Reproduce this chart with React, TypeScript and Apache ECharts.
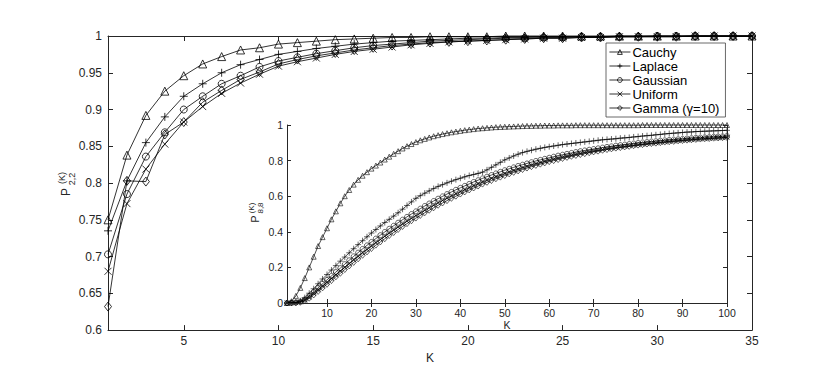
import React, { useEffect, useRef } from "react";
import * as echarts from "echarts";

const FONT = "'Liberation Sans', Arial, Helvetica, sans-serif";

const names = ["Cauchy", "Laplace", "Gaussian", "Uniform", "Gamma (\u03b3=10)"];

const mainK = Array.from({ length: 35 }, (_, i) => i + 1);
const insetK = Array.from({ length: 100 }, (_, i) => i + 1);

const mainXTicks = [5, 10, 15, 20, 25, 30, 35];
const insetXTicks = [10, 20, 30, 40, 50, 60, 70, 80, 90, 100];

// P_{2,2}^{(K)}, K = 1..35
const mainCauchy = [0.750, 0.838, 0.892, 0.925, 0.946, 0.962, 0.972, 0.981, 0.984, 0.989, 0.991, 0.993, 0.995, 0.996, 0.997, 0.998, 0.998, 0.999, 0.999, 0.999, 0.999, 1, 1, 1, 1, 1, 1, 1, 1, 1, 1, 1, 1, 1, 1];
const mainLaplace = [0.735, 0.803, 0.855, 0.890, 0.918, 0.935, 0.950, 0.961, 0.968, 0.975, 0.979, 0.983, 0.986, 0.989, 0.991, 0.993, 0.994, 0.995, 0.996, 0.997, 0.997, 0.998, 0.998, 0.999, 0.999, 0.999, 0.999, 1, 1, 1, 1, 1, 1, 1, 1];
const mainGaussian = [0.703, 0.785, 0.836, 0.869, 0.900, 0.918, 0.935, 0.946, 0.958, 0.966, 0.971, 0.976, 0.980, 0.984, 0.987, 0.989, 0.991, 0.993, 0.994, 0.995, 0.996, 0.997, 0.997, 0.998, 0.998, 0.999, 0.999, 0.999, 0.999, 1, 1, 1, 1, 1, 1];
const mainUniform = [0.680, 0.772, 0.819, 0.853, 0.883, 0.904, 0.922, 0.936, 0.948, 0.959, 0.965, 0.970, 0.975, 0.979, 0.982, 0.985, 0.988, 0.990, 0.992, 0.993, 0.994, 0.995, 0.996, 0.997, 0.997, 0.998, 0.998, 0.999, 0.999, 0.999, 0.999, 1, 1, 1, 1];
const mainGamma = [0.632, 0.803, 0.802, 0.866, 0.883, 0.910, 0.926, 0.941, 0.951, 0.962, 0.968, 0.973, 0.977, 0.981, 0.984, 0.987, 0.989, 0.991, 0.992, 0.993, 0.994, 0.995, 0.996, 0.997, 0.997, 0.998, 0.998, 0.999, 0.999, 0.999, 0.999, 1, 1, 1, 1];

// P_{8,8}^{(K)}, K = 1..100
const insetCauchy = [
  0.000, 0.010, 0.040, 0.085, 0.140, 0.200, 0.260, 0.320, 0.370, 0.420,
  0.470, 0.515, 0.560, 0.600, 0.635, 0.665, 0.692, 0.715, 0.735, 0.755,
  0.772, 0.789, 0.806, 0.822, 0.838, 0.853, 0.868, 0.881, 0.893, 0.904,
  0.914, 0.922, 0.930, 0.937, 0.943, 0.949, 0.954, 0.959, 0.963, 0.967,
  0.971, 0.974, 0.977, 0.980, 0.982, 0.984, 0.986, 0.988, 0.989, 0.990,
  0.991, 0.992, 0.993, 0.994, 0.995, 0.995, 0.996, 0.996, 0.997, 0.997,
  0.997, 0.998, 0.998, 0.998, 0.998, 0.999, 0.999, 0.999, 0.999, 0.999,
  0.999, 0.999, 0.999, 0.999, 0.999, 0.999, 0.999, 0.999, 0.999, 0.999,
  1, 1, 1, 1, 1, 1, 1, 1, 1, 1,
  1, 1, 1, 1, 1, 1, 1, 1, 1, 1,
];
const insetLaplace = [
  0.000, 0.001, 0.004, 0.012, 0.030, 0.055, 0.080, 0.108, 0.135, 0.160,
  0.185, 0.210, 0.235, 0.258, 0.282, 0.305, 0.328, 0.350, 0.372, 0.393,
  0.413, 0.433, 0.452, 0.470, 0.488, 0.507, 0.527, 0.548, 0.568, 0.588,
  0.603, 0.617, 0.630, 0.643, 0.655, 0.665, 0.675, 0.684, 0.693, 0.701,
  0.709, 0.716, 0.722, 0.728, 0.735, 0.748, 0.762, 0.776, 0.790, 0.804,
  0.815, 0.826, 0.836, 0.845, 0.852, 0.858, 0.864, 0.869, 0.874, 0.878,
  0.882, 0.886, 0.890, 0.893, 0.896, 0.899, 0.902, 0.905, 0.908, 0.911,
  0.914, 0.917, 0.919, 0.921, 0.923, 0.926, 0.928, 0.930, 0.933, 0.935,
  0.938, 0.940, 0.942, 0.945, 0.947, 0.950, 0.952, 0.954, 0.956, 0.958,
  0.960, 0.961, 0.963, 0.964, 0.965, 0.966, 0.967, 0.968, 0.969, 0.970,
];
const insetGaussian = [
  0.000, 0.001, 0.003, 0.008, 0.020, 0.040, 0.062, 0.085, 0.108, 0.130,
  0.152, 0.174, 0.196, 0.218, 0.240, 0.262, 0.283, 0.304, 0.324, 0.343,
  0.362, 0.381, 0.399, 0.417, 0.434, 0.451, 0.468, 0.484, 0.500, 0.515,
  0.530, 0.545, 0.559, 0.573, 0.586, 0.599, 0.612, 0.624, 0.636, 0.647,
  0.658, 0.669, 0.680, 0.690, 0.700, 0.710, 0.719, 0.728, 0.737, 0.746,
  0.754, 0.762, 0.770, 0.777, 0.784, 0.791, 0.798, 0.804, 0.810, 0.816,
  0.822, 0.828, 0.833, 0.838, 0.843, 0.848, 0.853, 0.857, 0.861, 0.865,
  0.869, 0.873, 0.877, 0.880, 0.884, 0.887, 0.890, 0.893, 0.896, 0.899,
  0.902, 0.904, 0.907, 0.909, 0.912, 0.914, 0.916, 0.918, 0.920, 0.922,
  0.924, 0.926, 0.928, 0.929, 0.931, 0.932, 0.934, 0.935, 0.936, 0.938,
];
const insetUniform = [
  0.000, 0.000, 0.002, 0.006, 0.016, 0.033, 0.053, 0.074, 0.095, 0.116,
  0.137, 0.158, 0.179, 0.200, 0.221, 0.242, 0.262, 0.282, 0.301, 0.320,
  0.339, 0.357, 0.375, 0.393, 0.410, 0.427, 0.444, 0.460, 0.476, 0.491,
  0.506, 0.521, 0.535, 0.549, 0.563, 0.576, 0.589, 0.601, 0.613, 0.625,
  0.636, 0.647, 0.658, 0.669, 0.679, 0.689, 0.699, 0.708, 0.717, 0.726,
  0.735, 0.743, 0.751, 0.759, 0.767, 0.774, 0.781, 0.788, 0.795, 0.801,
  0.807, 0.813, 0.819, 0.824, 0.830, 0.835, 0.840, 0.845, 0.849, 0.854,
  0.858, 0.862, 0.866, 0.870, 0.873, 0.877, 0.880, 0.883, 0.886, 0.889,
  0.892, 0.895, 0.898, 0.900, 0.903, 0.905, 0.908, 0.910, 0.912, 0.914,
  0.916, 0.918, 0.920, 0.922, 0.923, 0.925, 0.926, 0.928, 0.929, 0.931,
];
const insetGamma = [
  0.000, 0.000, 0.001, 0.004, 0.012, 0.027, 0.045, 0.065, 0.085, 0.105,
  0.126, 0.147, 0.167, 0.188, 0.208, 0.228, 0.248, 0.268, 0.287, 0.306,
  0.325, 0.343, 0.361, 0.379, 0.396, 0.413, 0.430, 0.446, 0.462, 0.477,
  0.492, 0.507, 0.521, 0.535, 0.549, 0.562, 0.575, 0.588, 0.600, 0.612,
  0.624, 0.635, 0.646, 0.657, 0.668, 0.678, 0.688, 0.698, 0.707, 0.716,
  0.725, 0.734, 0.742, 0.750, 0.758, 0.766, 0.773, 0.780, 0.787, 0.794,
  0.800, 0.806, 0.812, 0.818, 0.824, 0.829, 0.834, 0.839, 0.844, 0.849,
  0.853, 0.858, 0.862, 0.866, 0.870, 0.873, 0.877, 0.880, 0.884, 0.887,
  0.890, 0.893, 0.896, 0.898, 0.901, 0.904, 0.906, 0.908, 0.911, 0.913,
  0.915, 0.917, 0.919, 0.921, 0.923, 0.924, 0.926, 0.927, 0.929, 0.930,
];

const PLUS = "path://M5,0L5,10M0,5L10,5";
const CROSS = "path://M0,0L10,10M0,10L10,0";
const symbols = ["triangle", PLUS, "circle", CROSS, "diamond"];
const mainSizes = [8, 8, 7, 7, [7, 9]];
const insetSizes = [5, 6, 5, 5, [5, 6]];

const mainData = [mainCauchy, mainLaplace, mainGaussian, mainUniform, mainGamma];
const insetData = [insetCauchy, insetLaplace, insetGaussian, insetUniform, insetGamma];

const AXIS = "#262626";
const HOLLOW = "rgba(255,255,255,0)";

function axisCommon(extra: any) {
  return {
    axisLine: { show: true, lineStyle: { color: AXIS, width: 1 } },
    splitLine: { show: false },
    ...extra,
  };
}

export default function App() {
  const ref = useRef<HTMLDivElement>(null);
  useEffect(() => {
    if (!ref.current) return;
    const chart = echarts.init(ref.current, undefined, { renderer: "svg" });

    const series: any[] = [];
    names.forEach((name, i) => {
      series.push({
        type: "line",
        name,
        xAxisIndex: 0,
        yAxisIndex: 0,
        data: mainK.map((k, j) => [k, mainData[i][j]]),
        symbol: symbols[i],
        symbolSize: mainSizes[i],
        showAllSymbol: true,
        clip: false,
        lineStyle: { color: "#000", width: 0.8 },
        itemStyle: { color: HOLLOW, borderColor: "#000", borderWidth: 0.8 },
        emphasis: { disabled: true },
        z: 2,
      });
    });
    names.forEach((name, i) => {
      series.push({
        type: "line",
        name,
        xAxisIndex: 2,
        yAxisIndex: 2,
        data: insetK.map((k, j) => [k, insetData[i][j]]),
        symbol: symbols[i],
        symbolSize: insetSizes[i],
        showAllSymbol: true,
        clip: false,
        lineStyle: { color: "#000", width: 0.7 },
        itemStyle: { color: HOLLOW, borderColor: "#000", borderWidth: 0.6 },
        emphasis: { disabled: true },
        z: 6,
      });
    });

    const tickIn = { show: true, inside: true, length: 5, lineStyle: { color: AXIS, width: 1 } };

    const option: any = {
      animation: false,
      textStyle: { fontFamily: FONT },
      grid: [
        { left: 108, top: 36, width: 644, height: 296, show: false },
        { left: 287, top: 125, width: 440, height: 178, show: true, backgroundColor: "#fff", borderWidth: 0, z: 3 },
      ],
      legend: {
        data: names,
        orient: "vertical",
        left: 606,
        top: 43,
        align: "left",
        padding: [2, 6, 2, 3],
        itemGap: 0,
        itemWidth: 21,
        itemHeight: 6,
        backgroundColor: "#fff",
        borderColor: "#444",
        borderWidth: 0.8,
        itemStyle: { color: HOLLOW, borderColor: "#000", borderWidth: 0.8 },
        lineStyle: { color: "#000", width: 0.8 },
        textStyle: { fontFamily: FONT, fontSize: 13, color: "#000", lineHeight: 14, padding: [0, 0, 0, -3] },
        z: 10,
      },
      xAxis: [
        axisCommon({
          type: "value", gridIndex: 0, position: "bottom", min: 1, max: 35,
          axisTick: { ...tickIn, customValues: mainXTicks },
          axisLabel: { customValues: mainXTicks, fontFamily: FONT, fontSize: 12, color: AXIS, margin: 5 },
          name: "K", nameLocation: "middle", nameGap: 20,
          nameTextStyle: { fontFamily: FONT, fontSize: 12, color: AXIS },
        }),
        axisCommon({
          type: "value", gridIndex: 0, position: "top", min: 1, max: 35,
          axisTick: { ...tickIn, customValues: mainXTicks },
          axisLabel: { show: false },
        }),
        axisCommon({
          type: "value", gridIndex: 1, position: "bottom", min: 1, max: 100, z: 8,
          axisTick: { ...tickIn, length: 4, customValues: insetXTicks },
          axisLabel: { customValues: insetXTicks, fontFamily: FONT, fontSize: 10.5, color: AXIS, margin: 4 },
          name: "K", nameLocation: "middle", nameGap: 16,
          nameTextStyle: { fontFamily: FONT, fontSize: 10.5, color: AXIS },
        }),
        axisCommon({
          type: "value", gridIndex: 1, position: "top", min: 1, max: 100, z: 8,
          axisTick: { ...tickIn, length: 4, customValues: insetXTicks },
          axisLabel: { show: false },
        }),
      ],
      yAxis: [
        axisCommon({
          type: "value", gridIndex: 0, position: "left", min: 0.6, max: 1, interval: 0.05,
          axisTick: tickIn,
          axisLabel: { fontFamily: FONT, fontSize: 12, color: AXIS, margin: 6 },
        }),
        axisCommon({
          type: "value", gridIndex: 0, position: "right", min: 0.6, max: 1, interval: 0.05,
          axisTick: tickIn,
          axisLabel: { show: false },
        }),
        axisCommon({
          type: "value", gridIndex: 1, position: "left", min: 0, max: 1, interval: 0.2, z: 8,
          axisTick: { ...tickIn, length: 4 },
          axisLabel: { fontFamily: FONT, fontSize: 10.5, color: AXIS, margin: 4 },
        }),
        axisCommon({
          type: "value", gridIndex: 1, position: "right", min: 0, max: 1, interval: 0.2, z: 8,
          axisTick: { ...tickIn, length: 4 },
          axisLabel: { show: false },
        }),
      ],
      graphic: [
        { type: "text", x: 66, y: 192, rotation: Math.PI / 2, style: { text: "P", font: `12px ${FONT}`, fill: AXIS, align: "center", verticalAlign: "middle" } },
        { type: "text", x: 62, y: 178, rotation: Math.PI / 2, style: { text: "(K)", font: `9px ${FONT}`, fill: AXIS, align: "center", verticalAlign: "middle" } },
        { type: "text", x: 72, y: 179, rotation: Math.PI / 2, style: { text: "2,2", font: `9px ${FONT}`, fill: AXIS, align: "center", verticalAlign: "middle" } },
        { type: "text", x: 255, y: 219, rotation: Math.PI / 2, style: { text: "P", font: `10.5px ${FONT}`, fill: AXIS, align: "center", verticalAlign: "middle" } },
        { type: "text", x: 251, y: 208, rotation: Math.PI / 2, style: { text: "(K)", font: `8px ${FONT}`, fill: AXIS, align: "center", verticalAlign: "middle" } },
        { type: "text", x: 260, y: 208, rotation: Math.PI / 2, style: { text: "8,8", font: `8px ${FONT}`, fill: AXIS, align: "center", verticalAlign: "middle" } },
      ],
      series,
    };
    chart.setOption(option);
    return () => chart.dispose();
  }, []);
  return (
    <div
      ref={ref}
      style={{ position: "fixed", left: 0, top: 0, width: 830, height: 369, background: "#fff" }}
    />
  );
}
